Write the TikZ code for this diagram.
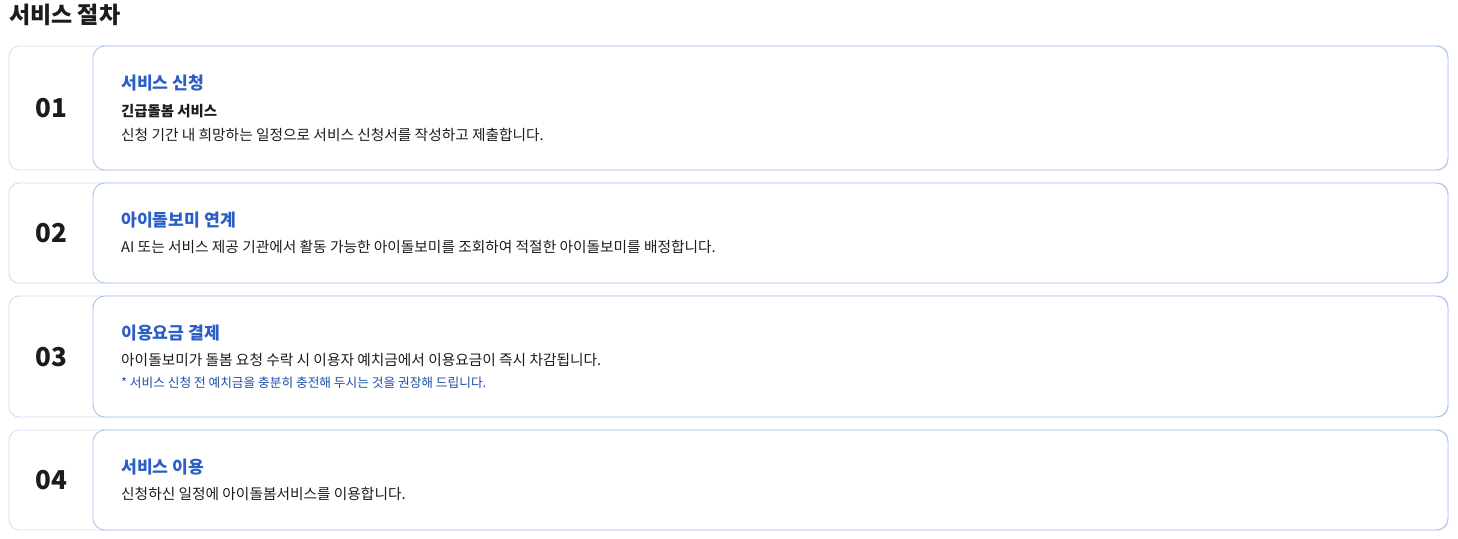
\documentclass[tikz,border=0pt]{standalone}
\usepackage{fontspec}
\setmainfont{Noto Sans CJK KR}
\usetikzlibrary{positioning}
\definecolor{stepblue}{HTML}{2B5FC7}
\definecolor{noteblue}{HTML}{1E4FA6}
\definecolor{outerline}{HTML}{D3DDF0}
\definecolor{innerline}{HTML}{A9C3F1}
\definecolor{inktext}{HTML}{1C1C1C}

\begin{document}
\begin{tikzpicture}[x=1pt,y=-1pt,
  outerbox/.style={draw=outerline,line width=0.9pt,rounded corners=10pt,fill=white},
  innerbox/.style={draw=innerline,line width=0.9pt,rounded corners=12pt,fill=white},
  stepnum/.style={inner sep=0pt,text=inktext,font=\fontsize{26}{30}\selectfont\bfseries},
  steptitle/.style={anchor=west,inner sep=0pt,text=stepblue,font=\fontsize{17.2}{21}\selectfont\bfseries},
  stepsub/.style={anchor=west,inner sep=0pt,text=inktext,font=\fontsize{14.4}{18}\selectfont\bfseries},
  stepbody/.style={anchor=west,inner sep=0pt,text=inktext,font=\fontsize{14.7}{18}\selectfont},
  stepnote/.style={anchor=west,inner sep=0pt,text=noteblue,font=\fontsize{12.7}{15}\selectfont}]
\useasboundingbox[fill=white] (0,0) rectangle (1458,538);
% Heading
\node[anchor=west,inner sep=0pt,text=inktext,font=\fontsize{23}{27}\selectfont\bfseries] (heading) at (9,15) {서비스 절차};
% Step 1: 서비스 신청
\draw[outerbox] (9,46) rectangle (1448,170);
\draw[innerbox] (93,46) rectangle (1448,170);
\node[stepnum] (num1) at (51,108) {01};
\node[steptitle] (title1) at (121,83) {서비스 신청};
\node[stepsub] (sub1) at (121,111) {긴급돌봄 서비스};
\node[stepbody] (body1) at (121,135) {신청 기간 내 희망하는 일정으로 서비스 신청서를 작성하고 제출합니다.};
% Step 2: 아이돌보미 연계
\draw[outerbox] (9,183) rectangle (1448,283);
\draw[innerbox] (93,183) rectangle (1448,283);
\node[stepnum] (num2) at (51,233) {02};
\node[steptitle] (title2) at (121,220) {아이돌보미 연계};
\node[stepbody] (body2) at (121,247) {AI 또는 서비스 제공 기관에서 활동 가능한 아이돌보미를 조회하여 적절한 아이돌보미를 배정합니다.};
% Step 3: 이용요금 결제
\draw[outerbox] (9,296) rectangle (1448,417);
\draw[innerbox] (93,296) rectangle (1448,417);
\node[stepnum] (num3) at (51,357) {03};
\node[steptitle] (title3) at (121,333) {이용요금 결제};
\node[stepbody] (body3) at (121,360) {아이돌보미가 돌봄 요청 수락 시 이용자 예치금에서 이용요금이 즉시 차감됩니다.};
\node[stepnote] (note3) at (121,383) {* 서비스 신청 전 예치금을 충분히 충전해 두시는 것을 권장해 드립니다.};
% Step 4: 서비스 이용
\draw[outerbox] (9,430) rectangle (1448,530);
\draw[innerbox] (93,430) rectangle (1448,530);
\node[stepnum] (num4) at (51,480) {04};
\node[steptitle] (title4) at (121,467) {서비스 이용};
\node[stepbody] (body4) at (121,494) {신청하신 일정에 아이돌봄서비스를 이용합니다.};
\end{tikzpicture}
\end{document}
